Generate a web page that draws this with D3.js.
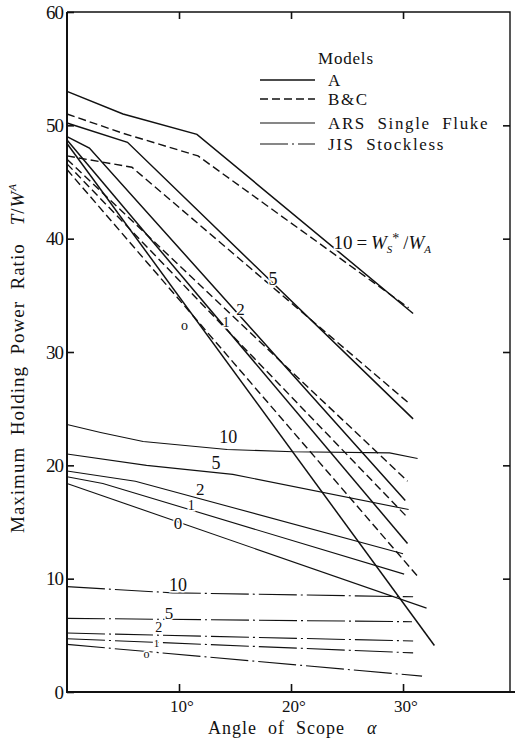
<!DOCTYPE html>
<html>
<head>
<meta charset="utf-8">
<script src="https://cdn.jsdelivr.net/npm/d3@7"></script>
<style>
  body { margin: 0; background: #fff; }
  text { font-family: 'Liberation Serif', 'DejaVu Serif', serif; fill: #111; white-space: pre; }
</style>
</head>
<body>
<div id="chart"></div>
<script>
// ratios W_s*/W_A for each curve
var ratios = [10, 5, 2, 1, 0];

// model A (solid, heavy) - [angle, T/W_A]
var modelA = [
  [[0, 53.0], [5, 51.0], [11.6, 49.2], [30.9, 33.4]],
  [[0, 50.2], [5.4, 48.5], [30.9, 24.1]],
  [[0, 49.0], [2.0, 48.0], [30.2, 16.9]],
  [[0, 48.7], [30.4, 13.1]],
  [[0, 48.4], [32.8, 4.1]]
];

// model B&C (dashed)
var modelBC = [
  [[0, 51.0], [5, 49.3], [11.7, 47.3], [30.5, 33.9]],
  [[0, 47.3], [5.8, 46.3], [30.5, 25.5]],
  [[0, 47.0], [30.4, 18.6]],
  [[0, 46.6], [30.4, 15.4]],
  [[0, 46.1], [31.4, 10.1]]
];

// ARS single fluke (thin solid)
var modelARS = [
  [[0, 23.6], [3, 22.9], [6.8, 22.1], [14.3, 21.4], [20.2, 21.2], [28.8, 21.1], [31.3, 20.6]],
  [[0, 21.0], [7.1, 20.0], [14.8, 19.2], [30.5, 16.1]],
  [[0, 19.5], [6.1, 18.6], [30.0, 12.2]],
  [[0, 19.0], [3.2, 18.4], [30.1, 10.4]],
  [[0, 18.4], [32.1, 7.4]]
];

// JIS stockless (dash-dot)
var modelJIS = [
  [[0, 9.3], [9.4, 8.75], [30.9, 8.4]],
  [[0, 6.5], [30.8, 6.2]],
  [[0, 5.2], [30.9, 4.5]],
  [[0, 4.7], [30.9, 3.45]],
  [[0, 4.2], [31.7, 1.4]]
];

// curve labels [text, angle, value, size]
var labelsAB = [['5', 18.4, 36.5, 18], ['2', 15.5, 33.8, 17], ['1', 14.2, 32.6, 14], ['o', 10.5, 32.4, 14]];
var labelsARS = [['10', 14.4, 22.5, 18], ['5', 13.3, 20.2, 18], ['2', 11.9, 17.9, 17], ['1', 11.1, 16.5, 14], ['0', 9.9, 14.9, 17]];
var labelsJIS = [['10', 9.9, 9.5, 18], ['5', 9.1, 7.0, 17], ['2', 8.2, 5.7, 14], ['1', 8.0, 4.3, 11], ['o', 7.1, 3.4, 12]];

var xTicks = [10, 20, 30];
var yTicks = [0, 10, 20, 30, 40, 50, 60];

var legendNames = ['A', 'B&C', 'ARS  Single  Fluke', 'JIS  Stockless'];

var W = 515, H = 739;
var x = d3.scaleLinear().domain([0, 39.55]).range([67, 510]);
var y = d3.scaleLinear().domain([0, 60]).range([692, 12]);

var svg = d3.select('#chart').append('svg')
    .attr('width', W)
    .attr('height', H);

var styles = [
  {w: 1.5, dash: null},
  {w: 1.4, dash: '8,4'},
  {w: 1.1, dash: null},
  {w: 1.1, dash: '38,4,2,4'}
];

var line = d3.line()
    .x(function(d) { return x(d[0]); })
    .y(function(d) { return y(d[1]); });

// frame
svg.append('path')
    .attr('d', 'M' + x(0) + ',' + y(60) + 'H' + x(39.55) + 'V' + y(0))
    .attr('fill', 'none').attr('stroke', '#111').attr('stroke-width', 1.4);
svg.append('line')
    .attr('x1', x(0)).attr('x2', x(0)).attr('y1', y(60)).attr('y2', y(0) + 1)
    .attr('stroke', '#111').attr('stroke-width', 2);
svg.append('line')
    .attr('x1', x(0) - 1).attr('x2', W).attr('y1', y(0)).attr('y2', y(0))
    .attr('stroke', '#111').attr('stroke-width', 2);

// axes with inward ticks
var axLeft = svg.append('g').attr('transform', 'translate(' + x(0) + ',0)')
    .call(d3.axisRight(y).tickValues(yTicks).tickSize(7).tickFormat(''));
var axRight = svg.append('g').attr('transform', 'translate(' + x(39.55) + ',0)')
    .call(d3.axisLeft(y).tickValues([10, 20, 30, 40, 50]).tickSize(7).tickFormat(''));
var axBottom = svg.append('g').attr('transform', 'translate(0,' + y(0) + ')')
    .call(d3.axisTop(x).tickValues(xTicks).tickSize(8).tickFormat(''));
var axTop = svg.append('g').attr('transform', 'translate(0,' + y(60) + ')')
    .call(d3.axisBottom(x).tickValues(xTicks).tickSize(7).tickFormat(''));
[axLeft, axRight, axBottom, axTop].forEach(function(g) {
  g.select('.domain').remove();
  g.selectAll('line').attr('stroke', '#111').attr('stroke-width', 1.6);
});

// tick labels
svg.selectAll('text.ytick')
    .data(yTicks)
  .enter().append('text')
    .attr('class', 'ytick')
    .attr('x', x(0) - 4)
    .attr('y', function(d) { return y(d); })
    .attr('dy', '0.35em')
    .attr('text-anchor', 'end')
    .attr('font-size', '19px')
    .attr('letter-spacing', '-1px')
    .text(function(d) { return d; });

svg.selectAll('text.xtick')
    .data(xTicks)
  .enter().append('text')
    .attr('class', 'xtick')
    .attr('x', function(d) { return x(d) + 3; })
    .attr('y', y(0) + 20)
    .attr('text-anchor', 'middle')
    .attr('font-size', '17px')
    .text(function(d) { return d + '°'; });

// axis titles
var xt = svg.append('text')
    .attr('x', 208).attr('y', 734)
    .attr('font-size', '18px')
    .attr('letter-spacing', '1px');
xt.append('tspan').text('Angle  of  Scope');
xt.append('tspan').attr('dx', 22).attr('font-style', 'italic').text('α');

var yt = svg.append('text')
    .attr('transform', 'translate(24,533) rotate(-90)')
    .attr('font-size', '19px')
    .attr('letter-spacing', '1px');
yt.append('tspan').text('Maximum  Holding  Power  Ratio');
yt.append('tspan').attr('dx', 18).attr('font-style', 'italic').text('T');
yt.append('tspan').text('/');
yt.append('tspan').attr('font-style', 'italic').text('W');
yt.append('tspan').attr('dy', -8).attr('font-size', '11px').attr('font-style', 'italic').text('A');

// curves
[modelA, modelBC, modelARS, modelJIS].forEach(function(model, i) {
  svg.append('g').selectAll('path')
      .data(model)
    .enter().append('path')
      .attr('d', line)
      .attr('fill', 'none')
      .attr('stroke', '#111')
      .attr('stroke-width', styles[i].w)
      .attr('stroke-dasharray', styles[i].dash);
});

// curve labels
function drawLabels(list) {
  svg.append('g').selectAll('text')
      .data(list)
    .enter().append('text')
      .attr('x', function(d) { return x(d[1]); })
      .attr('y', function(d) { return y(d[2]); })
      .attr('dy', '0.35em')
      .attr('text-anchor', 'middle')
      .attr('font-size', function(d) { return d[3] + 'px'; })
      .attr('stroke', '#fff').attr('stroke-width', 3).attr('paint-order', 'stroke')
      .text(function(d) { return d[0]; });
}
drawLabels(labelsAB);
drawLabels(labelsARS);
drawLabels(labelsJIS);

// ratio annotation for the top pair
var ann = svg.append('text')
    .attr('x', x(23.8)).attr('y', y(39.7))
    .attr('dy', '0.35em')
    .attr('font-size', '19px')
    .attr('stroke', '#fff').attr('stroke-width', 3).attr('paint-order', 'stroke');
ann.append('tspan').text(ratios[0] + '\u2009=\u2009');
ann.append('tspan').attr('font-style', 'italic').text('W');
ann.append('tspan').attr('dy', 4).attr('font-size', '11px').attr('font-style', 'italic').text('S');
ann.append('tspan').attr('dy', -10).attr('font-size', '14px').text('*');
ann.append('tspan').attr('dy', 6).attr('dx', 4).text('/');
ann.append('tspan').attr('font-style', 'italic').text('W');
ann.append('tspan').attr('dy', 4).attr('font-size', '11px').attr('font-style', 'italic').text('A');

// legend
var legend = svg.append('g').attr('transform', 'translate(260,0)');
legend.append('text')
    .attr('x', 58).attr('y', 58)
    .attr('dy', '0.35em')
    .attr('font-size', '17px')
    .attr('letter-spacing', '0.8px')
    .text('Models');
var rowY = [80, 99, 123, 144];
legend.selectAll('line.key')
    .data(legendNames)
  .enter().append('line')
    .attr('class', 'key')
    .attr('x1', 0).attr('x2', 55)
    .attr('y1', function(d, i) { return rowY[i]; })
    .attr('y2', function(d, i) { return rowY[i]; })
    .attr('stroke', '#111')
    .attr('stroke-width', function(d, i) { return styles[i].w; })
    .attr('stroke-dasharray', function(d, i) { return i === 3 ? '28,4,2,4' : styles[i].dash; });
legend.selectAll('text.key')
    .data(legendNames)
  .enter().append('text')
    .attr('class', 'key')
    .attr('x', 68)
    .attr('y', function(d, i) { return rowY[i]; })
    .attr('dy', '0.35em')
    .attr('font-size', '17px')
    .attr('letter-spacing', '1.6px')
    .text(function(d) { return d; });
</script>
</body>
</html>
